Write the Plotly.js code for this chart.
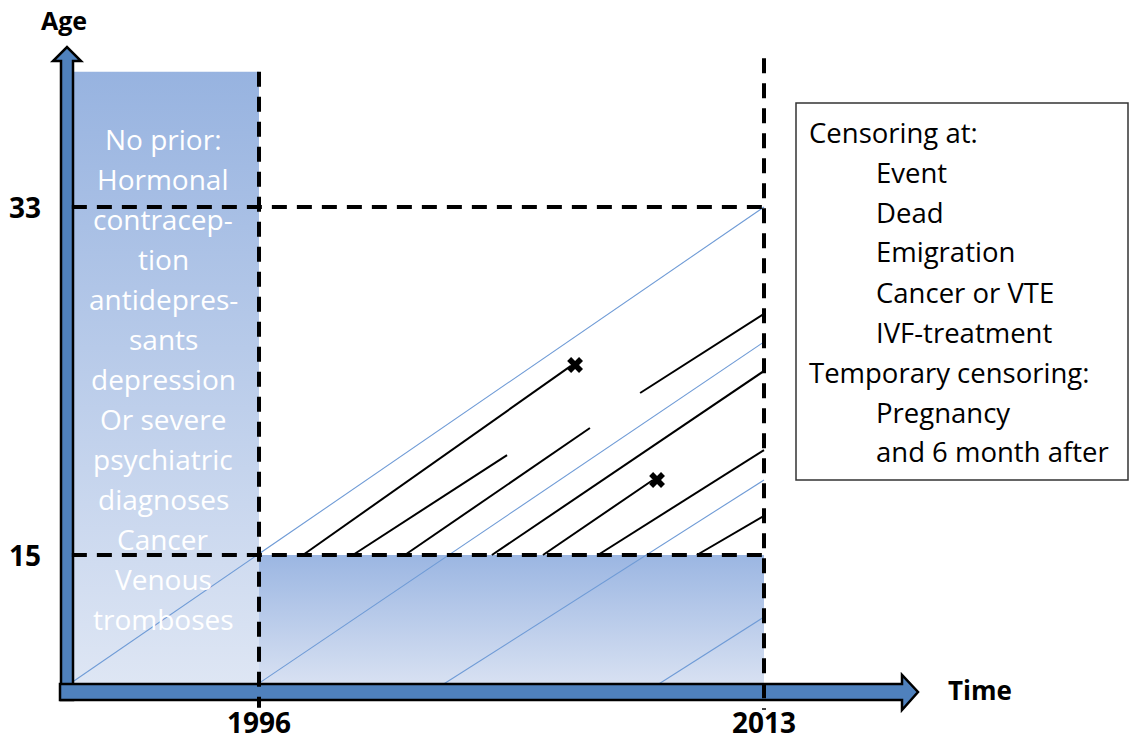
<!DOCTYPE html>
<html><head><meta charset="utf-8">
<script src="https://cdn.plot.ly/plotly-3.0.1.min.js"></script>
<style>html,body{margin:0;padding:0;background:#fff}</style>
</head><body><div id="chart" style="width:1129px;height:742px"></div>
<script>
// ---- data ----
const periodYears = [1996, 2013];
const periodLabels = ['1996', '2013'];
const ageLimits = [15, 33];
const ageLabels = ['15', '33'];

const priorBlockX = [1989.7, 1996];
const priorBlockY = [8.3, 40];
const youngBlockX = [1996, 2013];
const youngBlockY = [8.3, 15];

const cohortStartYear = [1989.5, 1996.03, 2002.19, 2009.43];
const cohortStartAge  = [8.2, 8.4, 8.3, 8.3];
const cohortEndYear   = [2013, 2013, 2013, 2013];
const cohortEndAge    = [33, 26.02, 18.88, 11.79];

const lifeStartYear = [1997.48, 1999.16, 2000.91, 2008.83, 2003.84, 2005.56, 2007.41, 2010.74];
const lifeStartAge  = [15, 15, 15, 23.38, 15, 15, 15, 15];
const lifeEndYear   = [2006.5, 2004.35, 2007.14, 2013, 2013, 2009.26, 2013, 2013];
const lifeEndAge    = [24.78, 20.17, 21.57, 27.47, 24.52, 18.88, 20.43, 17.02];

const eventYear = [2006.64, 2009.4];
const eventAge  = [24.83, 18.88];

const exclusionText = ['No prior:', 'Hormonal', 'contracep-', 'tion', 'antidepres-', 'sants', 'depression',
  'Or severe', 'psychiatric', 'diagnoses', 'Cancer', 'Venous', 'tromboses'];
const legendText = ['Censoring at:', 'Event', 'Dead', 'Emigration', 'Cancer or VTE', 'IVF-treatment',
  'Temporary censoring:', 'Pregnancy', 'and 6 month after'];
const legendIndent = [0, 1, 1, 1, 1, 1, 0, 1, 1];

// ---- layout helpers ----
const W = 1129, H = 742;
const px = x => x / W;
const py = y => 1 - y / H;
const P = (x, y) => px(x).toFixed(5) + ',' + py(y).toFixed(5);
const FONT = '"Open Sans", Lato, sans-serif';
const AXBLUE = '#4f81bd';
const THINBLUE = '#6f9bd6';

const traces = [];
function block(xr, yr, c0, c1) {
  traces.push({
    x: [xr[0], xr[1], xr[1], xr[0], xr[0]], y: [yr[0], yr[0], yr[1], yr[1], yr[0]],
    mode: 'lines', line: {width: 0}, fill: 'toself',
    fillgradient: {type: 'vertical', colorscale: [[0, c0], [1, c1]]},
    hoverinfo: 'skip', showlegend: false
  });
}
block(priorBlockX, priorBlockY, '#dee6f4', '#97b3e0');
block(youngBlockX, youngBlockY, '#d8e1f2', '#9bb6e2');

for (let i = 0; i < cohortStartYear.length; i++) {
  traces.push({x: [cohortStartYear[i], cohortEndYear[i]], y: [cohortStartAge[i], cohortEndAge[i]],
    mode: 'lines', line: {color: THINBLUE, width: 1.1}, hoverinfo: 'skip', showlegend: false});
}
for (let i = 0; i < lifeStartYear.length; i++) {
  traces.push({x: [lifeStartYear[i], lifeEndYear[i]], y: [lifeStartAge[i], lifeEndAge[i]],
    mode: 'lines', line: {color: '#000', width: 2}, hoverinfo: 'skip', showlegend: false});
}
traces.push({x: eventYear, y: eventAge, mode: 'markers',
  marker: {symbol: 'x', size: 14, color: '#000', line: {width: 0}}, hoverinfo: 'skip', showlegend: false});

const shapes = [];
shapes.push({type: 'path', xref: 'paper', yref: 'paper', layer: 'above',
  path: 'M' + P(61, 700) + ' L' + P(61, 61) + ' L' + P(53, 61) + ' L' + P(67, 47) + ' L' + P(81, 61) + ' L' + P(73, 61) + ' L' + P(73, 700) + ' Z',
  fillcolor: AXBLUE, line: {color: '#000', width: 2.5}});
shapes.push({type: 'path', xref: 'paper', yref: 'paper', layer: 'above',
  path: 'M' + P(60, 684) + ' L' + P(902, 684) + ' L' + P(902, 675) + ' L' + P(918, 692) + ' L' + P(902, 710) + ' L' + P(902, 700) + ' L' + P(60, 700) + ' Z',
  fillcolor: AXBLUE, line: {color: '#000', width: 2.5}});
const dashStyle = {color: '#000', width: 4, dash: '15px,10px'};
shapes.push({type: 'line', xref: 'x', yref: 'y', layer: 'above', x0: periodYears[0], x1: periodYears[0], y0: priorBlockY[1], y1: 7.1, line: dashStyle});
shapes.push({type: 'line', xref: 'x', yref: 'y', layer: 'above', x0: periodYears[1], x1: periodYears[1], y0: 40.7, y1: 7.0, line: dashStyle});
for (const a of ageLimits) {
  shapes.push({type: 'line', xref: 'x', yref: 'y', layer: 'above', x0: priorBlockX[0], x1: periodYears[1], y0: a, y1: a, line: dashStyle});
}
shapes.push({type: 'rect', xref: 'paper', yref: 'paper', layer: 'above',
  x0: px(796), x1: px(1128), y0: py(480), y1: py(103), line: {color: '#333', width: 1.5}, fillcolor: 'rgba(0,0,0,0)'});

const annotations = [];
function ann(o) { annotations.push(Object.assign({showarrow: false, xanchor: 'center', yanchor: 'middle'}, o)); }
periodYears.forEach((yr, i) => ann({x: yr, xref: 'x', y: py(722), yref: 'paper',
  text: '<b>' + periodLabels[i] + '</b>', font: {family: FONT, size: 28, color: '#000'}}));
ageLimits.forEach((a, i) => ann({x: px(25), xref: 'paper', y: a, yref: 'y',
  text: '<b>' + ageLabels[i] + '</b>', font: {family: FONT, size: 28, color: '#000'}}));
ann({x: px(64), xref: 'paper', y: py(20), yref: 'paper', text: '<b>Age</b>', font: {family: FONT, size: 25, color: '#000'}});
ann({x: px(980), xref: 'paper', y: py(690), yref: 'paper', text: '<b>Time</b>', font: {family: FONT, size: 26, color: '#000'}});
exclusionText.forEach((t, i) => ann({x: px(163), xref: 'paper', y: py(139 + 40 * i), yref: 'paper',
  text: t, font: {family: FONT, size: 28, color: '#fff'}}));
legendText.forEach((t, i) => ann({x: px(legendIndent[i] ? 874 : 807), xref: 'paper', xanchor: 'left',
  y: py(132 + 40 * i), yref: 'paper', text: t, font: {family: FONT, size: 27.5, color: '#000'}}));

const layout = {
  width: W, height: H, margin: {l: 0, r: 0, t: 0, b: 0, pad: 0},
  paper_bgcolor: '#fff', plot_bgcolor: '#fff', showlegend: false,
  xaxis: {range: [1987.281, 2025.287], visible: false, fixedrange: true},
  yaxis: {range: [5.328, 43.707], visible: false, fixedrange: true},
  shapes: shapes, annotations: annotations
};
Plotly.newPlot('chart', traces, layout, {displayModeBar: false, staticPlot: true});
</script></body></html>
